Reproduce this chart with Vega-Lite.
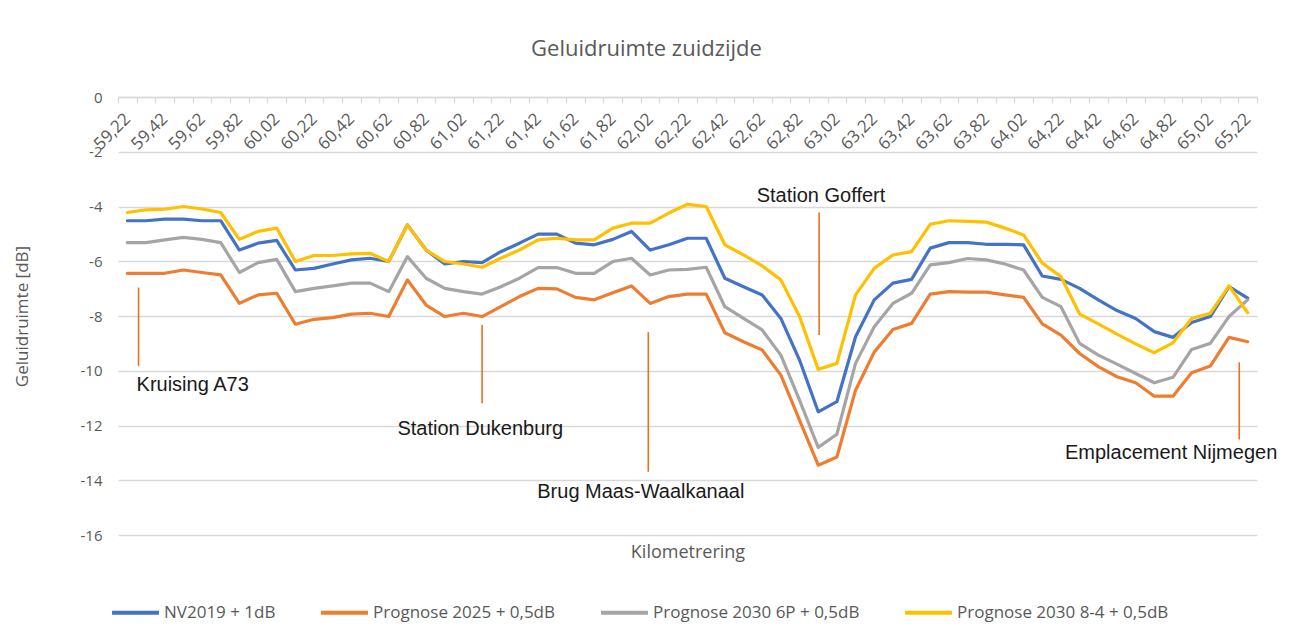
{
  "$schema": "https://vega.github.io/schema/vega-lite/v6.json",
  "width": 1139,
  "height": 438,
  "autosize": {"type": "none"},
  "padding": {"left": 118, "top": 97, "right": 36, "bottom": 106},
  "background": "white",
  "config": {"view": {"stroke": null}, "font": "Open Sans"},
  "title": {"text": "Geluidruimte zuidzijde", "fontSize": 22, "font": "Open Sans", "fontWeight": "normal", "color": "#595959", "anchor": "middle", "dx": -41, "offset": 7, "baseline": "bottom"},
  "datasets": {
    "series": [
      {"km":59.22,"s":"NV2019 + 1dB","v":-4.52},{"km":59.32,"s":"NV2019 + 1dB","v":-4.52},{"km":59.42,"s":"NV2019 + 1dB","v":-4.46},{"km":59.52,"s":"NV2019 + 1dB","v":-4.46},{"km":59.62,"s":"NV2019 + 1dB","v":-4.52},{"km":59.72,"s":"NV2019 + 1dB","v":-4.52},{"km":59.82,"s":"NV2019 + 1dB","v":-5.59},{"km":59.92,"s":"NV2019 + 1dB","v":-5.34},{"km":60.02,"s":"NV2019 + 1dB","v":-5.24},{"km":60.12,"s":"NV2019 + 1dB","v":-6.32},
      {"km":60.22,"s":"NV2019 + 1dB","v":-6.26},{"km":60.32,"s":"NV2019 + 1dB","v":-6.10},{"km":60.42,"s":"NV2019 + 1dB","v":-5.95},{"km":60.52,"s":"NV2019 + 1dB","v":-5.89},{"km":60.62,"s":"NV2019 + 1dB","v":-6.01},{"km":60.72,"s":"NV2019 + 1dB","v":-4.67},{"km":60.82,"s":"NV2019 + 1dB","v":-5.59},{"km":60.92,"s":"NV2019 + 1dB","v":-6.10},{"km":61.02,"s":"NV2019 + 1dB","v":-6.01},{"km":61.12,"s":"NV2019 + 1dB","v":-6.05},
      {"km":61.22,"s":"NV2019 + 1dB","v":-5.65},{"km":61.32,"s":"NV2019 + 1dB","v":-5.34},{"km":61.42,"s":"NV2019 + 1dB","v":-5.01},{"km":61.52,"s":"NV2019 + 1dB","v":-5.01},{"km":61.62,"s":"NV2019 + 1dB","v":-5.34},{"km":61.72,"s":"NV2019 + 1dB","v":-5.40},{"km":61.82,"s":"NV2019 + 1dB","v":-5.20},{"km":61.92,"s":"NV2019 + 1dB","v":-4.91},{"km":62.02,"s":"NV2019 + 1dB","v":-5.59},{"km":62.12,"s":"NV2019 + 1dB","v":-5.40},
      {"km":62.22,"s":"NV2019 + 1dB","v":-5.16},{"km":62.32,"s":"NV2019 + 1dB","v":-5.16},{"km":62.42,"s":"NV2019 + 1dB","v":-6.62},{"km":62.52,"s":"NV2019 + 1dB","v":-6.93},{"km":62.62,"s":"NV2019 + 1dB","v":-7.23},{"km":62.72,"s":"NV2019 + 1dB","v":-8.09},{"km":62.82,"s":"NV2019 + 1dB","v":-9.61},{"km":62.92,"s":"NV2019 + 1dB","v":-11.50},{"km":63.02,"s":"NV2019 + 1dB","v":-11.13},{"km":63.12,"s":"NV2019 + 1dB","v":-8.76},
      {"km":63.22,"s":"NV2019 + 1dB","v":-7.41},{"km":63.32,"s":"NV2019 + 1dB","v":-6.80},{"km":63.42,"s":"NV2019 + 1dB","v":-6.66},{"km":63.52,"s":"NV2019 + 1dB","v":-5.52},{"km":63.62,"s":"NV2019 + 1dB","v":-5.32},{"km":63.72,"s":"NV2019 + 1dB","v":-5.32},{"km":63.82,"s":"NV2019 + 1dB","v":-5.38},{"km":63.92,"s":"NV2019 + 1dB","v":-5.38},{"km":64.02,"s":"NV2019 + 1dB","v":-5.40},{"km":64.12,"s":"NV2019 + 1dB","v":-6.54},
      {"km":64.22,"s":"NV2019 + 1dB","v":-6.66},{"km":64.32,"s":"NV2019 + 1dB","v":-6.99},{"km":64.42,"s":"NV2019 + 1dB","v":-7.41},{"km":64.52,"s":"NV2019 + 1dB","v":-7.80},{"km":64.62,"s":"NV2019 + 1dB","v":-8.09},{"km":64.72,"s":"NV2019 + 1dB","v":-8.57},{"km":64.82,"s":"NV2019 + 1dB","v":-8.78},{"km":64.92,"s":"NV2019 + 1dB","v":-8.24},{"km":65.02,"s":"NV2019 + 1dB","v":-8.02},{"km":65.12,"s":"NV2019 + 1dB","v":-6.93},
      {"km":65.22,"s":"NV2019 + 1dB","v":-7.35},

      {"km":59.22,"s":"Prognose 2025 + 0,5dB","v":-6.44},{"km":59.32,"s":"Prognose 2025 + 0,5dB","v":-6.44},{"km":59.42,"s":"Prognose 2025 + 0,5dB","v":-6.44},{"km":59.52,"s":"Prognose 2025 + 0,5dB","v":-6.32},{"km":59.62,"s":"Prognose 2025 + 0,5dB","v":-6.41},{"km":59.72,"s":"Prognose 2025 + 0,5dB","v":-6.50},{"km":59.82,"s":"Prognose 2025 + 0,5dB","v":-7.54},{"km":59.92,"s":"Prognose 2025 + 0,5dB","v":-7.23},{"km":60.02,"s":"Prognose 2025 + 0,5dB","v":-7.17},{"km":60.12,"s":"Prognose 2025 + 0,5dB","v":-8.30},
      {"km":60.22,"s":"Prognose 2025 + 0,5dB","v":-8.12},{"km":60.32,"s":"Prognose 2025 + 0,5dB","v":-8.06},{"km":60.42,"s":"Prognose 2025 + 0,5dB","v":-7.93},{"km":60.52,"s":"Prognose 2025 + 0,5dB","v":-7.90},{"km":60.62,"s":"Prognose 2025 + 0,5dB","v":-8.02},{"km":60.72,"s":"Prognose 2025 + 0,5dB","v":-6.68},{"km":60.82,"s":"Prognose 2025 + 0,5dB","v":-7.60},{"km":60.92,"s":"Prognose 2025 + 0,5dB","v":-8.02},{"km":61.02,"s":"Prognose 2025 + 0,5dB","v":-7.90},{"km":61.12,"s":"Prognose 2025 + 0,5dB","v":-8.02},
      {"km":61.22,"s":"Prognose 2025 + 0,5dB","v":-7.66},{"km":61.32,"s":"Prognose 2025 + 0,5dB","v":-7.29},{"km":61.42,"s":"Prognose 2025 + 0,5dB","v":-6.99},{"km":61.52,"s":"Prognose 2025 + 0,5dB","v":-7.01},{"km":61.62,"s":"Prognose 2025 + 0,5dB","v":-7.32},{"km":61.72,"s":"Prognose 2025 + 0,5dB","v":-7.41},{"km":61.82,"s":"Prognose 2025 + 0,5dB","v":-7.15},{"km":61.92,"s":"Prognose 2025 + 0,5dB","v":-6.90},{"km":62.02,"s":"Prognose 2025 + 0,5dB","v":-7.54},{"km":62.12,"s":"Prognose 2025 + 0,5dB","v":-7.29},
      {"km":62.22,"s":"Prognose 2025 + 0,5dB","v":-7.20},{"km":62.32,"s":"Prognose 2025 + 0,5dB","v":-7.20},{"km":62.42,"s":"Prognose 2025 + 0,5dB","v":-8.61},{"km":62.52,"s":"Prognose 2025 + 0,5dB","v":-8.94},{"km":62.62,"s":"Prognose 2025 + 0,5dB","v":-9.24},{"km":62.72,"s":"Prognose 2025 + 0,5dB","v":-10.16},{"km":62.82,"s":"Prognose 2025 + 0,5dB","v":-11.80},{"km":62.92,"s":"Prognose 2025 + 0,5dB","v":-13.45},{"km":63.02,"s":"Prognose 2025 + 0,5dB","v":-13.15},{"km":63.12,"s":"Prognose 2025 + 0,5dB","v":-10.71},
      {"km":63.22,"s":"Prognose 2025 + 0,5dB","v":-9.32},{"km":63.32,"s":"Prognose 2025 + 0,5dB","v":-8.49},{"km":63.42,"s":"Prognose 2025 + 0,5dB","v":-8.27},{"km":63.52,"s":"Prognose 2025 + 0,5dB","v":-7.20},{"km":63.62,"s":"Prognose 2025 + 0,5dB","v":-7.11},{"km":63.72,"s":"Prognose 2025 + 0,5dB","v":-7.13},{"km":63.82,"s":"Prognose 2025 + 0,5dB","v":-7.13},{"km":63.92,"s":"Prognose 2025 + 0,5dB","v":-7.23},{"km":64.02,"s":"Prognose 2025 + 0,5dB","v":-7.32},{"km":64.12,"s":"Prognose 2025 + 0,5dB","v":-8.29},
      {"km":64.22,"s":"Prognose 2025 + 0,5dB","v":-8.70},{"km":64.32,"s":"Prognose 2025 + 0,5dB","v":-9.37},{"km":64.42,"s":"Prognose 2025 + 0,5dB","v":-9.85},{"km":64.52,"s":"Prognose 2025 + 0,5dB","v":-10.22},{"km":64.62,"s":"Prognose 2025 + 0,5dB","v":-10.44},{"km":64.72,"s":"Prognose 2025 + 0,5dB","v":-10.93},{"km":64.82,"s":"Prognose 2025 + 0,5dB","v":-10.93},{"km":64.92,"s":"Prognose 2025 + 0,5dB","v":-10.07},{"km":65.02,"s":"Prognose 2025 + 0,5dB","v":-9.83},{"km":65.12,"s":"Prognose 2025 + 0,5dB","v":-8.78},
      {"km":65.22,"s":"Prognose 2025 + 0,5dB","v":-8.94},

      {"km":59.22,"s":"Prognose 2030 6P + 0,5dB","v":-5.32},{"km":59.32,"s":"Prognose 2030 6P + 0,5dB","v":-5.32},{"km":59.42,"s":"Prognose 2030 6P + 0,5dB","v":-5.22},{"km":59.52,"s":"Prognose 2030 6P + 0,5dB","v":-5.13},{"km":59.62,"s":"Prognose 2030 6P + 0,5dB","v":-5.20},{"km":59.72,"s":"Prognose 2030 6P + 0,5dB","v":-5.32},{"km":59.82,"s":"Prognose 2030 6P + 0,5dB","v":-6.41},{"km":59.92,"s":"Prognose 2030 6P + 0,5dB","v":-6.05},{"km":60.02,"s":"Prognose 2030 6P + 0,5dB","v":-5.93},{"km":60.12,"s":"Prognose 2030 6P + 0,5dB","v":-7.11},
      {"km":60.22,"s":"Prognose 2030 6P + 0,5dB","v":-6.99},{"km":60.32,"s":"Prognose 2030 6P + 0,5dB","v":-6.90},{"km":60.42,"s":"Prognose 2030 6P + 0,5dB","v":-6.80},{"km":60.52,"s":"Prognose 2030 6P + 0,5dB","v":-6.80},{"km":60.62,"s":"Prognose 2030 6P + 0,5dB","v":-7.11},{"km":60.72,"s":"Prognose 2030 6P + 0,5dB","v":-5.83},{"km":60.82,"s":"Prognose 2030 6P + 0,5dB","v":-6.62},{"km":60.92,"s":"Prognose 2030 6P + 0,5dB","v":-6.99},{"km":61.02,"s":"Prognose 2030 6P + 0,5dB","v":-7.11},{"km":61.12,"s":"Prognose 2030 6P + 0,5dB","v":-7.20},
      {"km":61.22,"s":"Prognose 2030 6P + 0,5dB","v":-6.93},{"km":61.32,"s":"Prognose 2030 6P + 0,5dB","v":-6.62},{"km":61.42,"s":"Prognose 2030 6P + 0,5dB","v":-6.23},{"km":61.52,"s":"Prognose 2030 6P + 0,5dB","v":-6.23},{"km":61.62,"s":"Prognose 2030 6P + 0,5dB","v":-6.44},{"km":61.72,"s":"Prognose 2030 6P + 0,5dB","v":-6.44},{"km":61.82,"s":"Prognose 2030 6P + 0,5dB","v":-6.01},{"km":61.92,"s":"Prognose 2030 6P + 0,5dB","v":-5.89},{"km":62.02,"s":"Prognose 2030 6P + 0,5dB","v":-6.50},{"km":62.12,"s":"Prognose 2030 6P + 0,5dB","v":-6.32},
      {"km":62.22,"s":"Prognose 2030 6P + 0,5dB","v":-6.30},{"km":62.32,"s":"Prognose 2030 6P + 0,5dB","v":-6.22},{"km":62.42,"s":"Prognose 2030 6P + 0,5dB","v":-7.66},{"km":62.52,"s":"Prognose 2030 6P + 0,5dB","v":-8.09},{"km":62.62,"s":"Prognose 2030 6P + 0,5dB","v":-8.51},{"km":62.72,"s":"Prognose 2030 6P + 0,5dB","v":-9.43},{"km":62.82,"s":"Prognose 2030 6P + 0,5dB","v":-11.07},{"km":62.92,"s":"Prognose 2030 6P + 0,5dB","v":-12.80},{"km":63.02,"s":"Prognose 2030 6P + 0,5dB","v":-12.32},{"km":63.12,"s":"Prognose 2030 6P + 0,5dB","v":-9.73},
      {"km":63.22,"s":"Prognose 2030 6P + 0,5dB","v":-8.39},{"km":63.32,"s":"Prognose 2030 6P + 0,5dB","v":-7.54},{"km":63.42,"s":"Prognose 2030 6P + 0,5dB","v":-7.17},{"km":63.52,"s":"Prognose 2030 6P + 0,5dB","v":-6.13},{"km":63.62,"s":"Prognose 2030 6P + 0,5dB","v":-6.05},{"km":63.72,"s":"Prognose 2030 6P + 0,5dB","v":-5.90},{"km":63.82,"s":"Prognose 2030 6P + 0,5dB","v":-5.95},{"km":63.92,"s":"Prognose 2030 6P + 0,5dB","v":-6.10},{"km":64.02,"s":"Prognose 2030 6P + 0,5dB","v":-6.32},{"km":64.12,"s":"Prognose 2030 6P + 0,5dB","v":-7.32},
      {"km":64.22,"s":"Prognose 2030 6P + 0,5dB","v":-7.66},{"km":64.32,"s":"Prognose 2030 6P + 0,5dB","v":-9.00},{"km":64.42,"s":"Prognose 2030 6P + 0,5dB","v":-9.43},{"km":64.52,"s":"Prognose 2030 6P + 0,5dB","v":-9.76},{"km":64.62,"s":"Prognose 2030 6P + 0,5dB","v":-10.10},{"km":64.72,"s":"Prognose 2030 6P + 0,5dB","v":-10.44},{"km":64.82,"s":"Prognose 2030 6P + 0,5dB","v":-10.24},{"km":64.92,"s":"Prognose 2030 6P + 0,5dB","v":-9.22},{"km":65.02,"s":"Prognose 2030 6P + 0,5dB","v":-9.00},{"km":65.12,"s":"Prognose 2030 6P + 0,5dB","v":-8.02},
      {"km":65.22,"s":"Prognose 2030 6P + 0,5dB","v":-7.41},

      {"km":59.22,"s":"Prognose 2030 8-4 + 0,5dB","v":-4.22},{"km":59.32,"s":"Prognose 2030 8-4 + 0,5dB","v":-4.12},{"km":59.42,"s":"Prognose 2030 8-4 + 0,5dB","v":-4.10},{"km":59.52,"s":"Prognose 2030 8-4 + 0,5dB","v":-4.00},{"km":59.62,"s":"Prognose 2030 8-4 + 0,5dB","v":-4.09},{"km":59.72,"s":"Prognose 2030 8-4 + 0,5dB","v":-4.22},{"km":59.82,"s":"Prognose 2030 8-4 + 0,5dB","v":-5.20},{"km":59.92,"s":"Prognose 2030 8-4 + 0,5dB","v":-4.91},{"km":60.02,"s":"Prognose 2030 8-4 + 0,5dB","v":-4.79},{"km":60.12,"s":"Prognose 2030 8-4 + 0,5dB","v":-6.01},
      {"km":60.22,"s":"Prognose 2030 8-4 + 0,5dB","v":-5.79},{"km":60.32,"s":"Prognose 2030 8-4 + 0,5dB","v":-5.79},{"km":60.42,"s":"Prognose 2030 8-4 + 0,5dB","v":-5.73},{"km":60.52,"s":"Prognose 2030 8-4 + 0,5dB","v":-5.71},{"km":60.62,"s":"Prognose 2030 8-4 + 0,5dB","v":-6.01},{"km":60.72,"s":"Prognose 2030 8-4 + 0,5dB","v":-4.67},{"km":60.82,"s":"Prognose 2030 8-4 + 0,5dB","v":-5.59},{"km":60.92,"s":"Prognose 2030 8-4 + 0,5dB","v":-6.01},{"km":61.02,"s":"Prognose 2030 8-4 + 0,5dB","v":-6.10},{"km":61.12,"s":"Prognose 2030 8-4 + 0,5dB","v":-6.22},
      {"km":61.22,"s":"Prognose 2030 8-4 + 0,5dB","v":-5.89},{"km":61.32,"s":"Prognose 2030 8-4 + 0,5dB","v":-5.59},{"km":61.42,"s":"Prognose 2030 8-4 + 0,5dB","v":-5.22},{"km":61.52,"s":"Prognose 2030 8-4 + 0,5dB","v":-5.16},{"km":61.62,"s":"Prognose 2030 8-4 + 0,5dB","v":-5.22},{"km":61.72,"s":"Prognose 2030 8-4 + 0,5dB","v":-5.22},{"km":61.82,"s":"Prognose 2030 8-4 + 0,5dB","v":-4.79},{"km":61.92,"s":"Prognose 2030 8-4 + 0,5dB","v":-4.61},{"km":62.02,"s":"Prognose 2030 8-4 + 0,5dB","v":-4.61},{"km":62.12,"s":"Prognose 2030 8-4 + 0,5dB","v":-4.24},
      {"km":62.22,"s":"Prognose 2030 8-4 + 0,5dB","v":-3.92},{"km":62.32,"s":"Prognose 2030 8-4 + 0,5dB","v":-4.00},{"km":62.42,"s":"Prognose 2030 8-4 + 0,5dB","v":-5.40},{"km":62.52,"s":"Prognose 2030 8-4 + 0,5dB","v":-5.77},{"km":62.62,"s":"Prognose 2030 8-4 + 0,5dB","v":-6.17},{"km":62.72,"s":"Prognose 2030 8-4 + 0,5dB","v":-6.68},{"km":62.82,"s":"Prognose 2030 8-4 + 0,5dB","v":-8.02},{"km":62.92,"s":"Prognose 2030 8-4 + 0,5dB","v":-9.95},{"km":63.02,"s":"Prognose 2030 8-4 + 0,5dB","v":-9.73},{"km":63.12,"s":"Prognose 2030 8-4 + 0,5dB","v":-7.23},
      {"km":63.22,"s":"Prognose 2030 8-4 + 0,5dB","v":-6.26},{"km":63.32,"s":"Prognose 2030 8-4 + 0,5dB","v":-5.77},{"km":63.42,"s":"Prognose 2030 8-4 + 0,5dB","v":-5.65},{"km":63.52,"s":"Prognose 2030 8-4 + 0,5dB","v":-4.65},{"km":63.62,"s":"Prognose 2030 8-4 + 0,5dB","v":-4.52},{"km":63.72,"s":"Prognose 2030 8-4 + 0,5dB","v":-4.54},{"km":63.82,"s":"Prognose 2030 8-4 + 0,5dB","v":-4.57},{"km":63.92,"s":"Prognose 2030 8-4 + 0,5dB","v":-4.79},{"km":64.02,"s":"Prognose 2030 8-4 + 0,5dB","v":-5.04},{"km":64.12,"s":"Prognose 2030 8-4 + 0,5dB","v":-6.07},
      {"km":64.22,"s":"Prognose 2030 8-4 + 0,5dB","v":-6.56},{"km":64.32,"s":"Prognose 2030 8-4 + 0,5dB","v":-7.93},{"km":64.42,"s":"Prognose 2030 8-4 + 0,5dB","v":-8.29},{"km":64.52,"s":"Prognose 2030 8-4 + 0,5dB","v":-8.66},{"km":64.62,"s":"Prognose 2030 8-4 + 0,5dB","v":-9.02},{"km":64.72,"s":"Prognose 2030 8-4 + 0,5dB","v":-9.34},{"km":64.82,"s":"Prognose 2030 8-4 + 0,5dB","v":-8.98},{"km":64.92,"s":"Prognose 2030 8-4 + 0,5dB","v":-8.09},{"km":65.02,"s":"Prognose 2030 8-4 + 0,5dB","v":-7.90},{"km":65.12,"s":"Prognose 2030 8-4 + 0,5dB","v":-6.90},
      {"km":65.22,"s":"Prognose 2030 8-4 + 0,5dB","v":-7.88}
    ],
    "notes": [
      {"km":59.28,"v":-6.96,"v2":-9.82,"tkm":59.57,"tv":-10.52,"t":"Kruising A73"},
      {"km":61.12,"v":-8.33,"v2":-11.19,"tkm":61.11,"tv":-12.14,"t":"Station Dukenburg"},
      {"km":62.01,"v":-8.59,"v2":-13.69,"tkm":61.97,"tv":-14.43,"t":"Brug Maas-Waalkanaal"},
      {"km":62.925,"v":-4.22,"v2":-8.69,"tkm":62.935,"tv":-3.62,"t":"Station Goffert"},
      {"km":65.175,"v":-9.69,"v2":-12.51,"tkm":64.81,"tv":-13.01,"t":"Emplacement Nijmegen"}
    ]
  },
  "layer": [
    {
      "data": {"name": "series"},
      "mark": {"type": "line", "strokeWidth": 3.2, "strokeJoin": "round", "strokeCap": "round"},
      "encoding": {
        "x": {
          "field": "km", "type": "quantitative",
          "scale": {"domain": [59.17, 65.27], "zero": false, "nice": false},
          "axis": {
            "orient": "bottom", "offset": -438,
            "values": [59.22, 59.42, 59.62, 59.82, 60.02, 60.22, 60.42, 60.62, 60.82, 61.02, 61.22, 61.42, 61.62, 61.82, 62.02, 62.22, 62.42, 62.62, 62.82, 63.02, 63.22, 63.42, 63.62, 63.82, 64.02, 64.22, 64.42, 64.62, 64.82, 65.02, 65.22],
            "labelExpr": "replace(format(datum.value, '.2f'), '.', ',')",
            "labelAngle": -45, "labelAlign": "right", "labelBaseline": "middle",
            "labelFontSize": 17, "labelColor": "#595959", "labelFont": "Open Sans",
            "labelOverlap": false, "labelPadding": 19, "labelBound": false, "labelFlush": false,
            "ticks": false, "domain": true, "domainColor": "#d9d9d9", "domainWidth": 1.3, "grid": false,
            "title": "Kilometrering", "titleFontSize": 18, "titleColor": "#595959", "titleFontWeight": "normal", "titleFont": "Open Sans",
            "titleY": 455, "titleBaseline": "middle"
          }
        },
        "y": {
          "field": "v", "type": "quantitative",
          "scale": {"domain": [-16, 0], "nice": false, "zero": false},
          "axis": {
            "values": [0, -2, -4, -6, -8, -10, -12, -14, -16],
            "labelExpr": "'' + datum.value",
            "grid": true, "gridColor": "#d9d9d9", "gridWidth": 1.3,
            "domain": false, "ticks": false,
            "labelFontSize": 15, "labelColor": "#595959", "labelFont": "Open Sans", "labelPadding": 16,
            "title": "Geluidruimte [dB]", "titleFontSize": 17, "titleColor": "#595959", "titleFontWeight": "normal", "titleFont": "Open Sans",
            "titleX": -96, "titleY": 219, "titleAngle": 270, "titleAlign": "center", "titleBaseline": "middle"
          }
        },
        "color": {
          "field": "s", "type": "nominal",
          "scale": {"domain": ["NV2019 + 1dB", "Prognose 2025 + 0,5dB", "Prognose 2030 6P + 0,5dB", "Prognose 2030 8-4 + 0,5dB"], "range": ["#4472C4", "#ED7D31", "#A5A5A5", "#FFC000"]},
          "legend": {
            "orient": "none", "legendX": -8, "legendY": 490, "direction": "horizontal", "title": null,
            "symbolType": "stroke", "symbolStrokeWidth": 4, "symbolSize": 2200,
            "labelFontSize": 17, "labelColor": "#595959", "labelFont": "Open Sans", "labelLimit": 400,
            "columnPadding": 37, "labelOffset": 3
          }
        }
      }
    },
    {
      "data": {"name": "notes"},
      "mark": {"type": "rule", "color": "#E8701E", "strokeWidth": 1.6},
      "encoding": {
        "x": {
          "field": "km", "type": "quantitative",
          "axis": {
            "orient": "bottom", "offset": -438,
            "values": [59.17,59.27,59.37,59.47,59.57,59.67,59.77,59.87,59.97,60.07,60.17,60.27,60.37,60.47,60.57,60.67,60.77,60.87,60.97,61.07,61.17,61.27,61.37,61.47,61.57,61.67,61.77,61.87,61.97,62.07,62.17,62.27,62.37,62.47,62.57,62.67,62.77,62.87,62.97,63.07,63.17,63.27,63.37,63.47,63.57,63.67,63.77,63.87,63.97,64.07,64.17,64.27,64.37,64.47,64.57,64.67,64.77,64.87,64.97,65.07,65.17,65.27],
            "labels": false, "ticks": true, "tickSize": 6, "tickColor": "#d9d9d9", "tickWidth": 1.3,
            "domain": false, "grid": false, "title": null
          }
        },
        "y": {"field": "v", "type": "quantitative"},
        "y2": {"field": "v2"}
      }
    },
    {
      "data": {"name": "notes"},
      "mark": {"type": "text", "font": "Liberation Sans", "fontSize": 20, "color": "#1a1a1a", "align": "center", "baseline": "middle"},
      "encoding": {
        "x": {"field": "tkm", "type": "quantitative", "axis": null},
        "y": {"field": "tv", "type": "quantitative"},
        "text": {"field": "t"}
      }
    }
  ],
  "resolve": {"axis": {"x": "independent"}}
}
